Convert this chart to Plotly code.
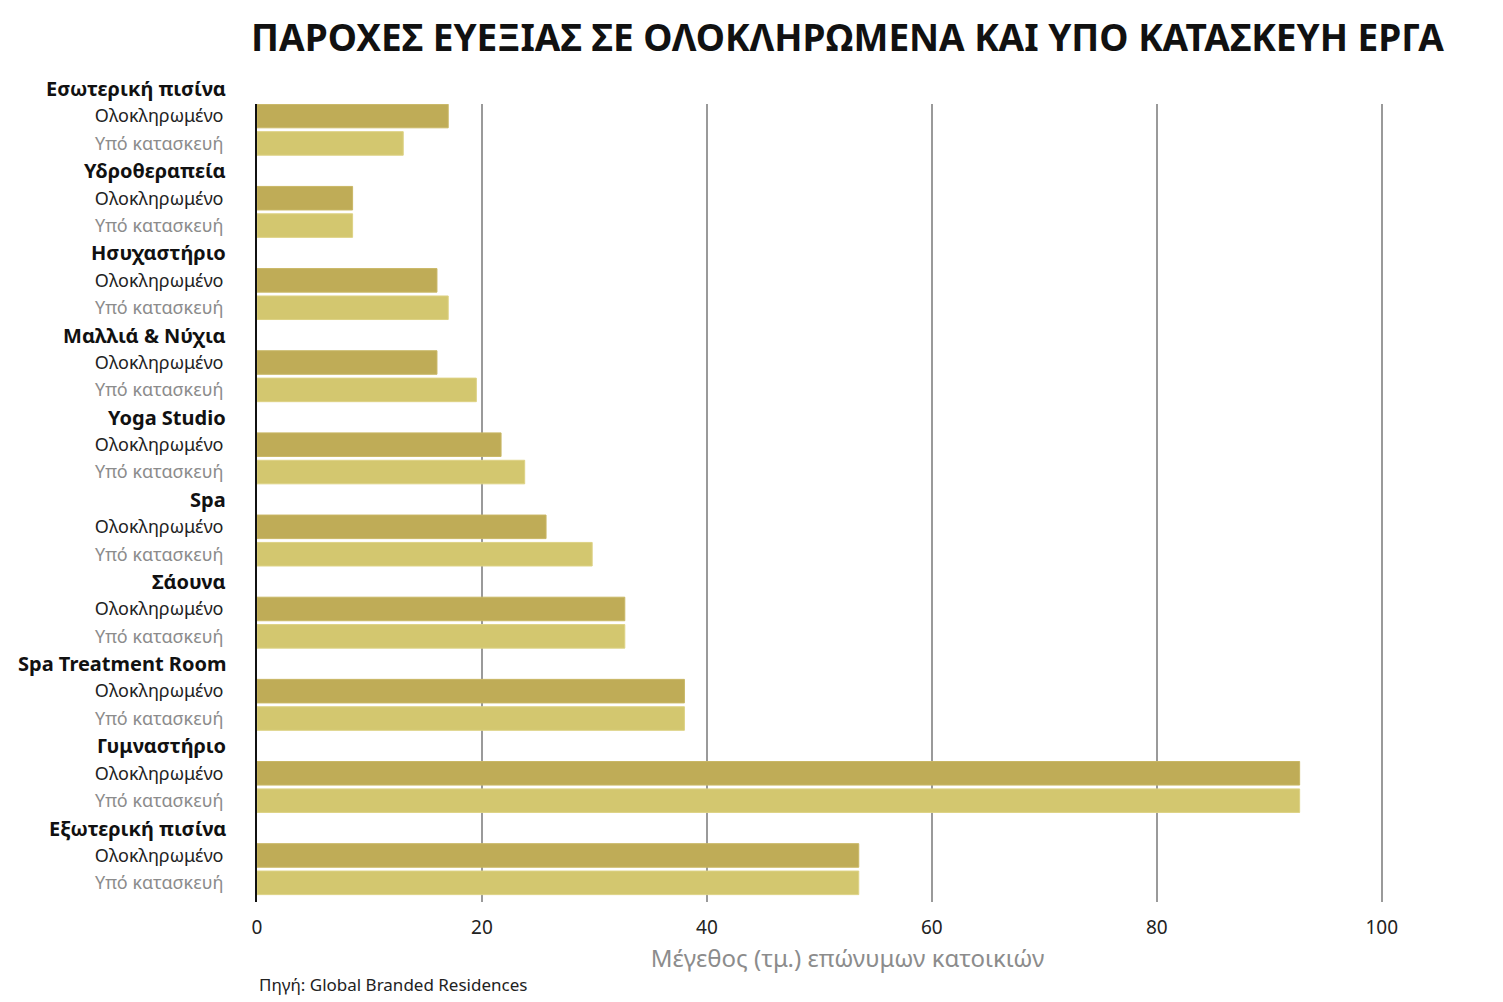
import plotly.graph_objects as go

categories = ["Εσωτερική πισίνα", "Υδροθεραπεία", "Ησυχαστήριο", "Μαλλιά & Νύχια",
              "Yoga Studio", "Spa", "Σάουνα", "Spa Treatment Room", "Γυμναστήριο",
              "Εξωτερική πισίνα"]
completed = [17, 8.5, 16, 16, 21.7, 25.7, 32.7, 38, 92.7, 53.5]
under_construction = [13, 8.5, 17, 19.5, 23.8, 29.8, 32.7, 38, 92.7, 53.5]
series_names = ["Ολοκληρωμένο", "Υπό κατασκευή"]
x_ticks = [0, 20, 40, 60, 80, 100]

title = "ΠΑΡΟΧΕΣ ΕΥΕΞΙΑΣ ΣΕ ΟΛΟΚΛΗΡΩΜΕΝΑ ΚΑΙ ΥΠΟ ΚΑΤΑΣΚΕΥΗ ΕΡΓΑ"
x_title = "Μέγεθος (τμ.) επώνυμων κατοικιών"
source = "Πηγή: Global Branded Residences"

FONT = "Noto Sans"
DARK = "#BFAC57"
LIGHT = "#D3C76F"

header_rows = [3 * i for i in range(len(categories))]
comp_rows = [3 * i + 1 for i in range(len(categories))]
uc_rows = [3 * i + 2 for i in range(len(categories))]

Y_BOTTOM, Y_TOP = 29.7, 0.56

fig = go.Figure()
fig.add_trace(go.Bar(
    x=completed, y=comp_rows, orientation="h", name=series_names[0],
    marker=dict(color=DARK, line=dict(color="#C9B765", width=1)), width=0.86,
))
fig.add_trace(go.Bar(
    x=under_construction, y=uc_rows, orientation="h", name=series_names[1],
    marker=dict(color=LIGHT, line=dict(color="#DDD284", width=1)), width=0.86,
))

tickvals = comp_rows + uc_rows
ticktext = [series_names[0]] * len(comp_rows) + \
           [f'<span style="color:#8c8c8c">{series_names[1]}</span>'] * len(uc_rows)

annotations = []
for cat, r in zip(categories, header_rows):
    # position in the y-axis domain (header rows sit between bar pairs; first is above the plot)
    frac = (Y_BOTTOM - r) / (Y_BOTTOM - Y_TOP)
    annotations.append(dict(
        x=0, xref="paper", y=frac, yref="y domain", text=f"<b>{cat}</b>",
        xanchor="right", yanchor="middle", xshift=-29, showarrow=False,
        font=dict(family=FONT, size=20, color="#111111"),
    ))
annotations.append(dict(
    x=0, xref="paper", y=-0.104, yref="paper", text=source,
    xanchor="left", yanchor="middle", showarrow=False,
    font=dict(family=FONT, size=17, color="#222222"),
))

fig.update_layout(
    width=1503, height=1002,
    margin=dict(l=249, r=73, t=96, b=108),
    plot_bgcolor="white", paper_bgcolor="white",
    showlegend=False, barmode="overlay",
    title=dict(text=f"<b>{title}</b>", x=0.5, xref="paper", xanchor="center",
               y=0.970, yref="container", yanchor="middle",
               font=dict(family=FONT, size=37, color="#111111")),
    annotations=annotations,
    font=dict(family=FONT),
)
fig.update_xaxes(
    range=[0, 105], tickvals=x_ticks, ticktext=[str(v) for v in x_ticks],
    showgrid=True, gridcolor="#9a9a9a", gridwidth=1.5,
    zeroline=False, showline=False, ticks="", automargin=False,
    ticklabelstandoff=12,
    tickfont=dict(family=FONT, size=19, color="#222222"),
    title=dict(text=x_title, font=dict(family=FONT, size=24, color="#8c8c8c"), standoff=11),
)
fig.update_yaxes(
    range=[Y_BOTTOM, Y_TOP], tickvals=tickvals, ticktext=ticktext,
    showgrid=False, zeroline=False, showline=True, linecolor="#111111", linewidth=2,
    ticks="", ticklabelstandoff=28, automargin=False,
    tickfont=dict(family=FONT, size=18, color="#222222"),
)

fig.write_html("out.html")
